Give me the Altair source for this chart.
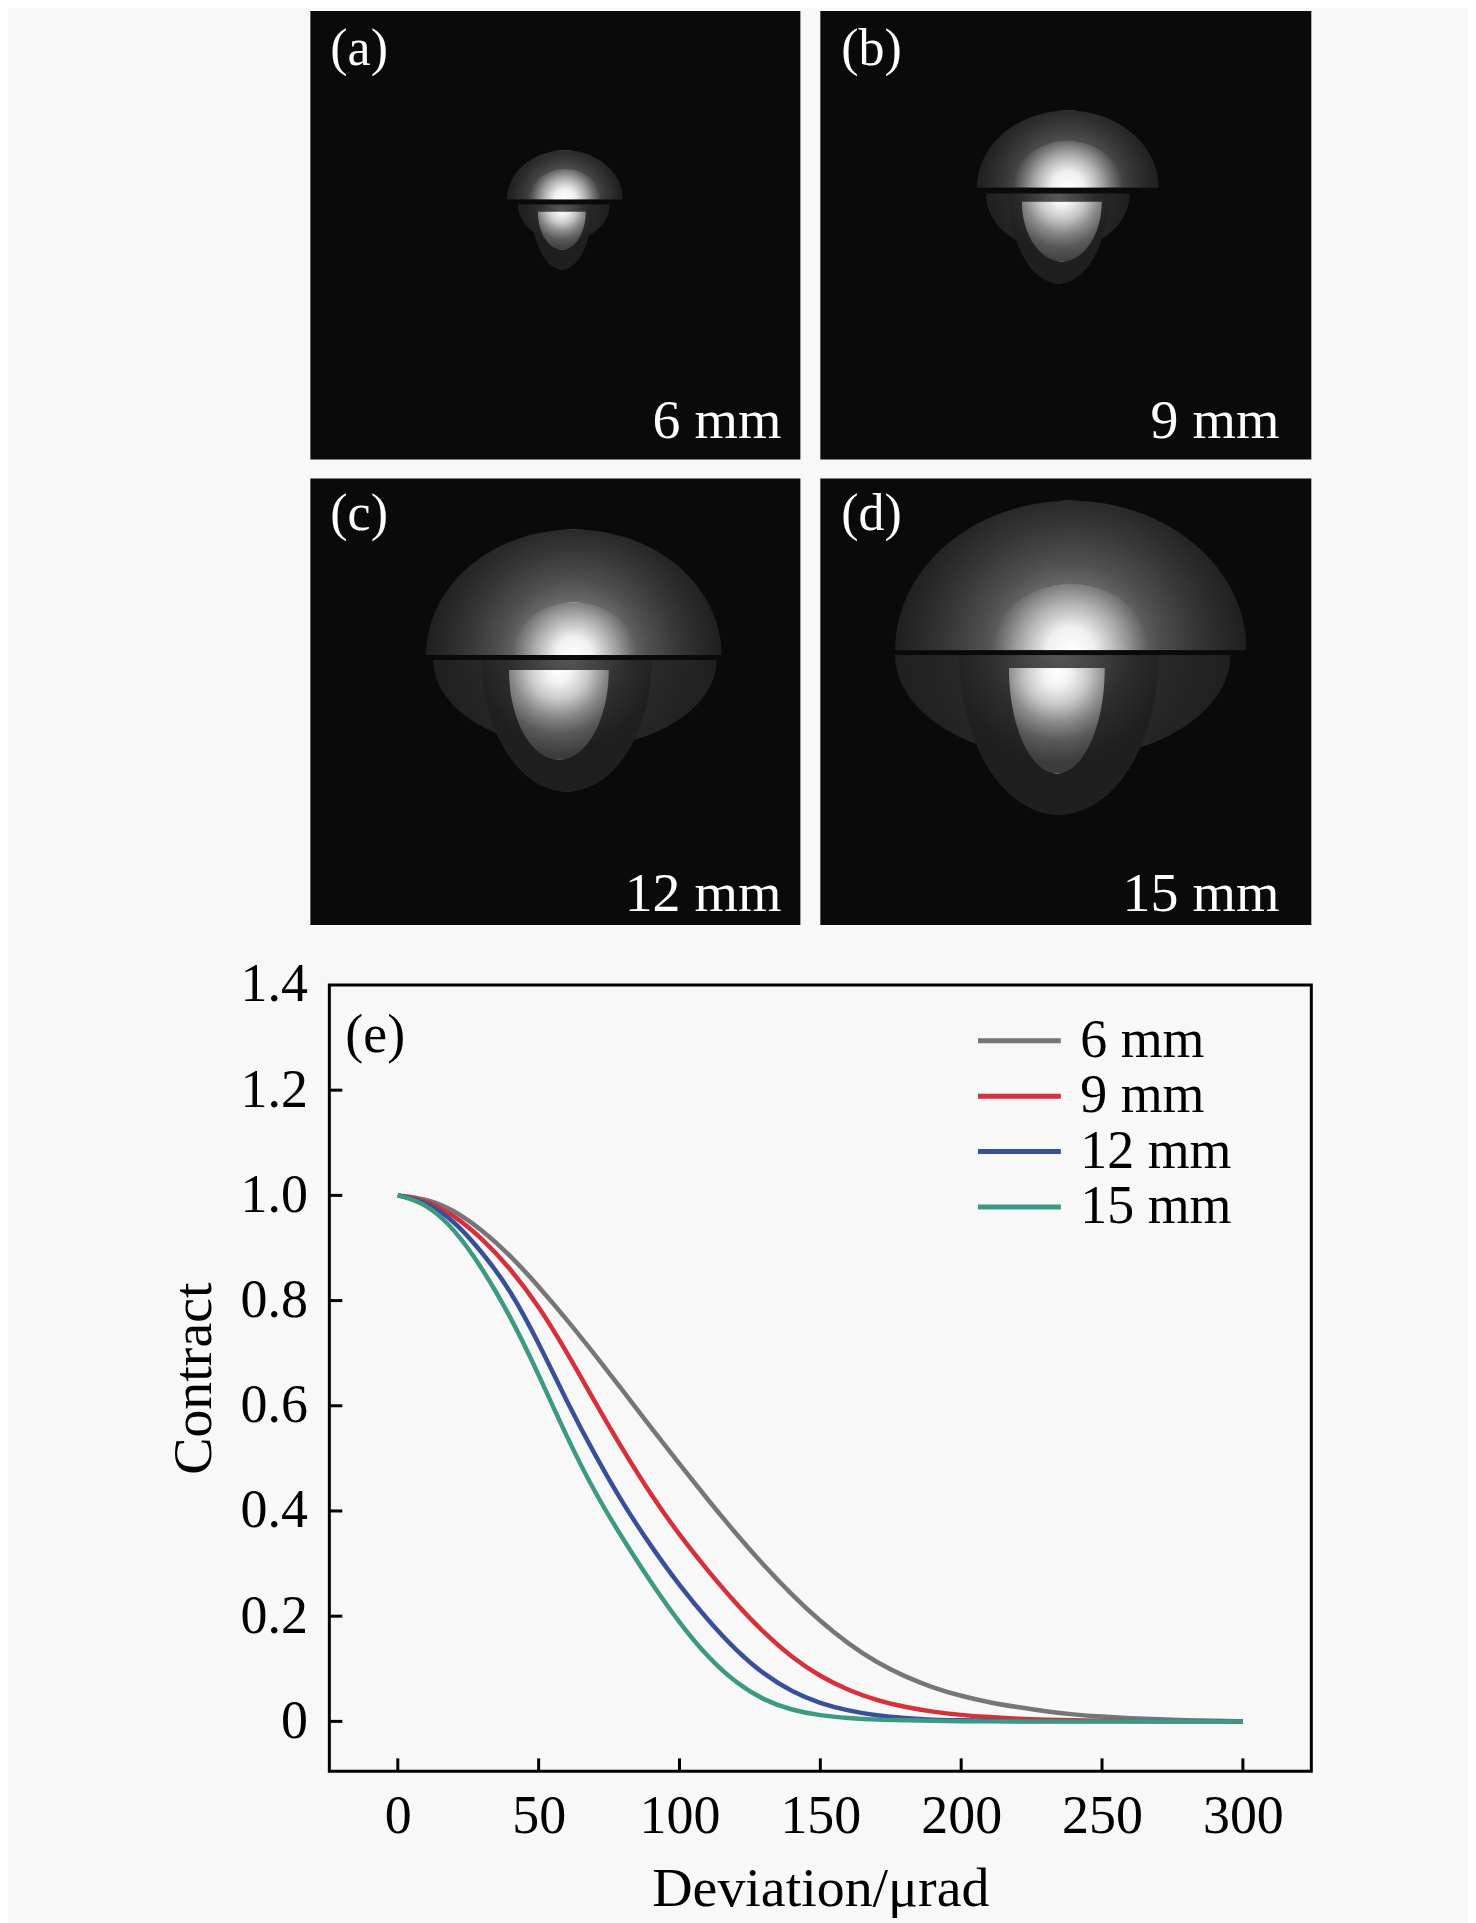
import altair as alt
import pandas as pd

FONT = "Liberation Serif"

# ---------------- (e) curves, values ----------------
deviation = [0, 10, 20, 30, 40, 50, 60, 70, 80, 90, 100, 110, 120, 130, 140, 150,
             160, 170, 180, 190, 200, 210, 220, 230, 240, 250, 260, 270, 280, 290, 300]
contrast_6mm = [1.000, 0.994, 0.972, 0.934, 0.886, 0.827, 0.764, 0.697, 0.628, 0.558,
                0.489, 0.422, 0.357, 0.296, 0.240, 0.190, 0.147, 0.112, 0.085, 0.064,
                0.048, 0.036, 0.027, 0.019, 0.013, 0.009, 0.006, 0.004, 0.002, 0.001, 0.000]
contrast_9mm = [1.000, 0.991, 0.962, 0.918, 0.861, 0.790, 0.702, 0.607, 0.515, 0.430,
                0.354, 0.287, 0.224, 0.168, 0.121, 0.085, 0.059, 0.040, 0.027, 0.018,
                0.012, 0.008, 0.005, 0.003, 0.002, 0.001, 0.001, 0.000, 0.000, 0.000, 0.000]
contrast_12mm = [1.000, 0.988, 0.952, 0.892, 0.820, 0.720, 0.608, 0.506, 0.413, 0.332,
                 0.258, 0.193, 0.135, 0.089, 0.056, 0.034, 0.020, 0.011, 0.006, 0.003,
                 0.002, 0.001, 0.000, 0.000, 0.000, 0.000, 0.000, 0.000, 0.000, 0.000, 0.000]
contrast_15mm = [1.000, 0.985, 0.937, 0.862, 0.770, 0.660, 0.540, 0.434, 0.346, 0.263,
                 0.187, 0.122, 0.073, 0.040, 0.021, 0.011, 0.006, 0.003, 0.002, 0.001,
                 0.000, 0.000, 0.000, 0.000, 0.000, 0.000, 0.000, 0.000, 0.000, 0.000, 0.000]
series_names = ["6 mm", "9 mm", "12 mm", "15 mm"]
series_colors = ["#767676", "#d7303a", "#36509c", "#3c9a82"]
x_ticks = [0, 50, 100, 150, 200, 250, 300]
y_ticks = [0, 0.2, 0.4, 0.6, 0.8, 1.0, 1.2, 1.4]

# ---------------- image panels (a)-(d), in image pixel coordinates ----------------
panel_ids = ["a", "b", "c", "d"]
panel_tags = ["(a)", "(b)", "(c)", "(d)"]
panel_labels = ["6 mm", "9 mm", "12 mm", "15 mm"]
panel_left = [308, 819, 308, 819]
panel_right = [799, 1311, 799, 1311]
panel_top = [3, 3, 474, 474]
panel_bottom = [455, 455, 924, 924]
tag_x = [328, 840, 328, 840]
tag_y = [57, 57, 526, 526]
label_x = [780, 1279, 780, 1279]
label_y = [433, 433, 910, 910]

# structure of each far-field spot
spot_x = [563, 1067, 572, 1070]      # centre of upper lobe
cut_y = [193, 181, 652, 647]         # dividing line
halo_r = [58, 91, 148, 176]          # upper lobe half width
core_r = [36, 55, 62, 78]            # bright core half width
wide_x = [562, 1057, 573, 1062]      # shallow lower skirt (the "ears")
wide_y = [198, 187, 657, 652]
wide_r = [46, 72, 142, 168]
wide_k = [0.8, 0.8, 0.62, 0.62]      # height / half width
lobe_x = [560, 1058, 565, 1058]      # deeper central lower lobe
lobe_y = [198, 187, 657, 652]
lobe_r = [31, 50, 85, 100]
lobe_k = [2.1, 1.8, 1.55, 1.6]
stem_x = [560, 1061, 557, 1056]      # bright lower stem
stem_y = [205, 195, 667, 665]
stem_r = [24, 40, 50, 48]
stem_k = [1.6, 1.5, 1.8, 2.2]

# ---------------- top block: the four images ----------------
panel_df = pd.DataFrame({"panel": panel_ids, "x0": panel_left, "x1": panel_right,
                         "y0": panel_top, "y1": panel_bottom, "tag": panel_tags,
                         "label": panel_labels, "tx": tag_x, "ty": tag_y,
                         "lx": label_x, "ly": label_y})
halo_df = pd.DataFrame({"panel": panel_ids, "px": spot_x, "py": cut_y, "r": halo_r})
core_df = pd.DataFrame({"panel": panel_ids, "px": spot_x, "py": cut_y, "r": core_r})
wide_df = pd.DataFrame({"panel": panel_ids, "px": wide_x, "py": wide_y, "r": wide_r})
lobe_df = pd.DataFrame({"panel": panel_ids, "px": lobe_x, "py": lobe_y, "r": lobe_r})
stem_df = pd.DataFrame({"panel": panel_ids, "px": stem_x, "py": stem_y, "r": stem_r})

DOME = "M -1 0 A 1 0.85 0 0 1 1 0 Z"


def bowl(k):
    return f"M -1 0 A 1 {k} 0 0 0 1 0 Z"


top_xs = alt.Scale(domain=[327, 1311], nice=False, zero=False)
top_ys = alt.Scale(domain=[3, 924], nice=False, zero=False, reverse=True)
size_scale = alt.Scale(type="pow", exponent=2, domain=[0, 100], range=[0, 40000])


def radial(cy, r2, pairs):
    return alt.RadialGradient(
        gradient="radial", x1=0.5, y1=cy, r1=0, x2=0.5, y2=cy, r2=r2,
        stops=[alt.GradientStop(offset=o, color=c) for o, c in pairs])


halo_grad = radial(0.7125, 0.5, [(0, "#a0a0a0"), (0.3, "#767676"), (0.5, "#505050"),
                                 (0.7, "#383838"), (0.85, "#2a2a2a"), (1, "#1f1f1f")])
core_grad = radial(0.7125, 0.5, [(0, "rgba(255,255,255,1)"), (0.3, "rgba(245,245,245,0.95)"),
                                 (0.6, "rgba(215,215,215,0.6)"), (1, "rgba(180,180,180,0)")])
wide_grad = radial(0.32, 0.5, [(0, "#3a3a3a"), (0.5, "#2b2b2b"), (1, "#1f1f1f")])
lobe_grad = radial(0.08, 0.55, [(0, "#585858"), (0.35, "#424242"), (0.65, "#2d2d2d"),
                                (1, "#1f1f1f")])
stem_grad = radial(0.05, 0.85, [(0, "#ffffff"), (0.15, "#f2f2f2"), (0.35, "#c8c8c8"),
                                (0.55, "#8a8a8a"), (0.75, "#5a5a5a"), (1, "#3c3c3c")])

rects = alt.Chart(panel_df).mark_rect(color="#0a0a0a").encode(
    x=alt.X("x0:Q", scale=top_xs, axis=None), x2="x1:Q",
    y=alt.Y("y0:Q", scale=top_ys, axis=None), y2="y1:Q")


def spot_layer(df, grad, shape_paths=None):
    mark_kw = dict(filled=True, fill=grad, strokeWidth=0, opacity=1)
    enc = dict(x=alt.X("px:Q", scale=top_xs, axis=None),
               y=alt.Y("py:Q", scale=top_ys, axis=None),
               size=alt.Size("r:Q", scale=size_scale, legend=None))
    if shape_paths is None:
        mark_kw["shape"] = DOME
    else:
        enc["shape"] = alt.Shape("panel:N", scale=alt.Scale(domain=panel_ids, range=shape_paths),
                                 legend=None)
    return alt.Chart(df).mark_point(**mark_kw).encode(**enc)


wides = spot_layer(wide_df, wide_grad, [bowl(k) for k in wide_k])
lobes = spot_layer(lobe_df, lobe_grad, [bowl(k) for k in lobe_k])
stems = spot_layer(stem_df, stem_grad, [bowl(k) for k in stem_k])
halos = spot_layer(halo_df, halo_grad)
cores = spot_layer(core_df, core_grad)

tags = alt.Chart(panel_df).mark_text(font=FONT, fontSize=52, color="white", align="left",
                                     baseline="alphabetic").encode(
    x=alt.X("tx:Q", scale=top_xs, axis=None), y=alt.Y("ty:Q", scale=top_ys, axis=None), text="tag:N")
labels = alt.Chart(panel_df).mark_text(font=FONT, fontSize=56, color="white", align="right",
                                       baseline="alphabetic").encode(
    x=alt.X("lx:Q", scale=top_xs, axis=None), y=alt.Y("ly:Q", scale=top_ys, axis=None), text="label:N")

images = alt.layer(rects, wides, lobes, stems, halos, cores, tags, labels).resolve_scale(
    shape="independent").properties(width=984, height=916,
                                    view=alt.ViewBackground(stroke="transparent"))

# ---------------- bottom block: contrast curves ----------------
curve_df = pd.DataFrame({
    "Deviation": deviation * 4,
    "Contrast": contrast_6mm + contrast_9mm + contrast_12mm + contrast_15mm,
    "Aperture": [n for n in series_names for _ in deviation],
})
xs = alt.Scale(domain=[-24.3, 324.3], nice=False, zero=False)
ys = alt.Scale(domain=[-0.095, 1.4], nice=False, zero=False)

lines = alt.Chart(curve_df).mark_line(strokeWidth=4.5, interpolate="basis").encode(
    x=alt.X("Deviation:Q", scale=xs, axis=alt.Axis(
        values=x_ticks, ticks=False, tickSize=0, domain=False, grid=False,
        labelFont=FONT, labelFontSize=54, labelColor="black", labelPadding=18,
        labelFlush=False, labelOverlap=False,
        title="Deviation/μrad", titleFont=FONT, titleFontSize=56, titleFontWeight="normal",
        titleColor="black", titleBaseline="alphabetic", titleY=134)),
    y=alt.Y("Contrast:Q", scale=ys, axis=alt.Axis(
        values=y_ticks, ticks=False, tickSize=0, domain=False, grid=False,
        labelExpr="datum.value == 0 ? '0' : format(datum.value, '.1f')",
        labelFont=FONT, labelFontSize=54, labelColor="black", labelPadding=22,
        labelFlush=False, labelOverlap=False,
        title="Contract", titleFont=FONT, titleFontSize=56, titleFontWeight="normal",
        titleColor="black", titleAngle=270, titleBaseline="alphabetic", titleX=-119)),
    color=alt.Color("Aperture:N", scale=alt.Scale(domain=series_names, range=series_colors),
                    legend=alt.Legend(title=None, orient="none", legendX=664.5, legendY=29,
                                      symbolType="M -2 0 L 2 0", symbolSize=1722,
                                      symbolStrokeWidth=5, labelFont=FONT, labelFontSize=54,
                                      labelColor="black", labelOffset=34, rowPadding=1.5,
                                      padding=0)),
)

ytick_rules = alt.Chart(pd.DataFrame({"v": y_ticks[:-1]})).mark_rule(color="black", strokeWidth=3).encode(
    y=alt.Y("v:Q", scale=ys), x=alt.value(0), x2=alt.value(13))
xtick_rules = alt.Chart(pd.DataFrame({"v": x_ticks})).mark_rule(color="black", strokeWidth=3).encode(
    x=alt.X("v:Q", scale=xs), y=alt.value(788), y2=alt.value(775))
e_label = alt.Chart(pd.DataFrame({"t": ["(e)"]})).mark_text(
    font=FONT, fontSize=54, color="black", align="left", baseline="alphabetic").encode(
    x=alt.value(16), y=alt.value(67), text="t:N")

plot_e = alt.layer(lines, ytick_rules, xtick_rules, e_label).properties(
    width=984, height=788, view=alt.ViewBackground(stroke="black", strokeWidth=3))

chart = alt.vconcat(images, plot_e, spacing=60, bounds="flush").resolve_scale(
    x="independent", y="independent", color="independent", size="independent",
    shape="independent").properties(
    padding={"left": 156, "top": 0, "right": 155, "bottom": 4},
    background="#f8f8f8").configure(font=FONT)

chart.save("out.html", embed_options={"renderer": "svg", "actions": False})
